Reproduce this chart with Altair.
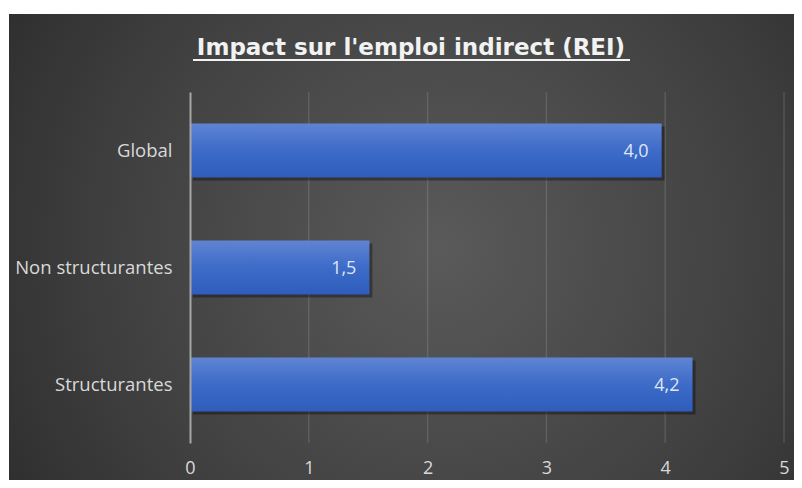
import altair as alt
import pandas as pd

categories = ["Global", "Non structurantes", "Structurantes"]
values = [3.97, 1.51, 4.23]
x_ticks = [0, 1, 2, 3, 4, 5]
grid_ticks = [1, 2, 3, 4, 5]
title_text = "Impact sur l'emploi indirect (REI)"

df = pd.DataFrame({"cat": categories, "val": values})
grid_df = pd.DataFrame({"val": grid_ticks})
title_df = pd.DataFrame({"t": [title_text]})

W, H = 594, 351
FONT = "Open Sans"

xscale = alt.Scale(domain=[0, 5], nice=False, zero=True)
yscale = alt.Scale(domain=categories, paddingInner=0.54, paddingOuter=0.27)
xaxis = alt.Axis(values=x_ticks, title=None, grid=False, domain=False, ticks=False, zindex=1,
                 labelFlush=False, labelColor="#d9d9d9", labelFontSize=18, labelPadding=16,
                 labelFont=FONT)
yaxis = alt.Axis(title=None, grid=False, domain=True, domainColor="#a6a6a6", domainWidth=2,
                 ticks=False, zindex=1, labelColor="#d9d9d9", labelFontSize=18.5, labelPadding=18,
                 labelFont=FONT)

bg = alt.Chart(title_df).mark_rect(
    fill=alt.Gradient(gradient="radial", x1=0.55, y1=0.5, r1=0, x2=0.55, y2=0.5, r2=0.75,
                      stops=[alt.GradientStop(color="#5a5a5a", offset=0),
                             alt.GradientStop(color="#404040", offset=0.55),
                             alt.GradientStop(color="#262626", offset=1)])
).encode(x=alt.value(-181), x2=alt.value(604), y=alt.value(-78), y2=alt.value(390))

grid = alt.Chart(grid_df).mark_rule(color="#ffffff", opacity=0.12, strokeWidth=1.5).encode(
    x=alt.X("val:Q", scale=xscale, axis=xaxis)
)

shadow = alt.Chart(df).mark_bar(color="#000000", opacity=0.35, xOffset=3, yOffset=3).encode(
    x=alt.X("val:Q", scale=xscale, axis=xaxis),
    y=alt.Y("cat:N", scale=yscale, axis=yaxis, sort=categories),
)

bars = alt.Chart(df).mark_bar(
    color=alt.Gradient(gradient="linear", x1=0, x2=0, y1=0, y2=1,
                       stops=[alt.GradientStop(color="#5f84d3", offset=0),
                              alt.GradientStop(color="#3d6bc8", offset=0.5),
                              alt.GradientStop(color="#2f5dbc", offset=1)])
).encode(
    x=alt.X("val:Q", scale=xscale, axis=xaxis),
    y=alt.Y("cat:N", scale=yscale, axis=yaxis, sort=categories),
)

labels = alt.Chart(df).transform_calculate(
    lbl="replace(format(datum.val, '.1f'), '.', ',')"
).mark_text(align="right", baseline="middle", dx=-13, dy=1, color="#dfe6f4", fontSize=18, font=FONT).encode(
    x=alt.X("val:Q", scale=xscale, axis=xaxis),
    y=alt.Y("cat:N", scale=yscale, axis=yaxis, sort=categories),
    text="lbl:N",
)

title = alt.Chart(title_df).mark_text(
    align="center", baseline="middle", color="#f2f2f2", fontSize=23, fontWeight="bold",
    font="DejaVu Sans"
).encode(x=alt.value(221), y=alt.value(-44), text="t:N")

underline = alt.Chart(title_df).mark_rule(color="#f2f2f2", strokeWidth=2).encode(
    x=alt.value(3), x2=alt.value(440), y=alt.value(-32)
)

chart = alt.layer(bg, grid, shadow, bars, labels, title, underline).properties(
    width=W, height=H,
    autosize=alt.AutoSizeParams(type="none"),
    padding={"left": 182, "top": 84, "right": 10, "bottom": 37},
    background="white",
).configure_view(stroke=None)

chart.save("out.html", embed_options={"renderer": "svg", "actions": False})
